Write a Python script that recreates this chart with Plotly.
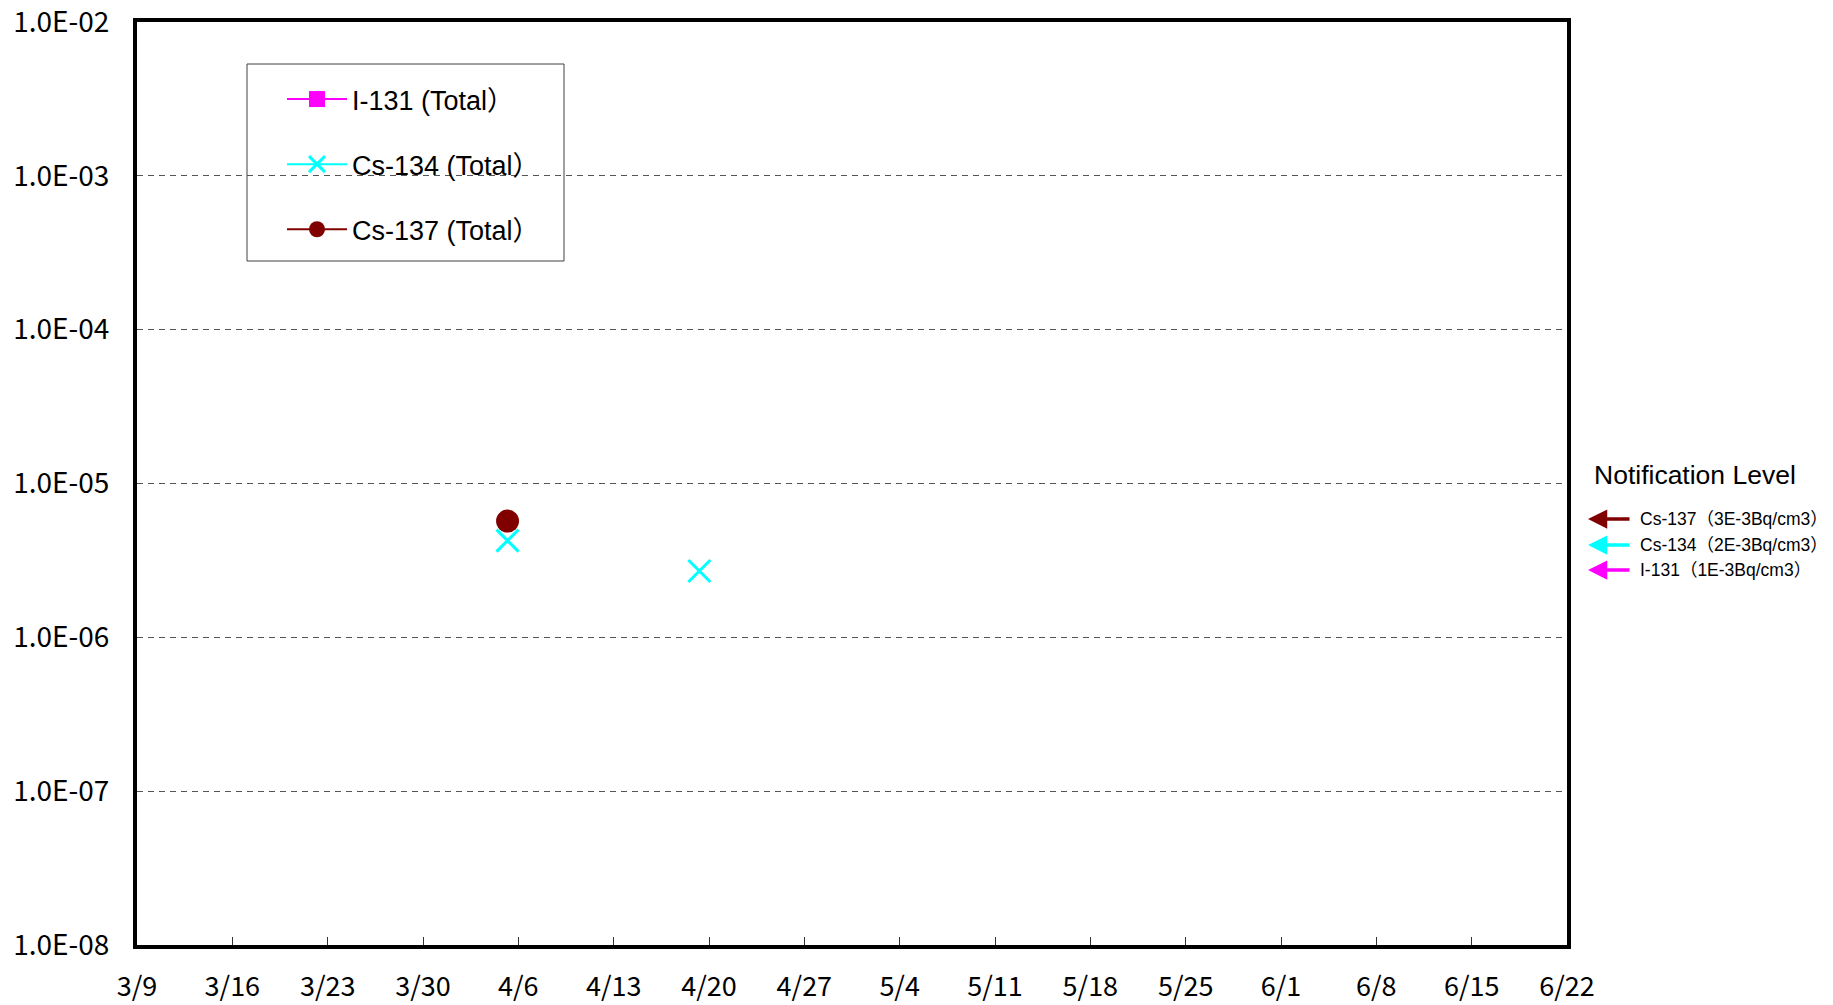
import plotly.graph_objects as go

# ---------------- data ----------------
series_names = ["I-131 (Total）", "Cs-134 (Total）", "Cs-137 (Total）"]
series_colors = ["#FF00FF", "#00FFFF", "#800000"]

i131_dates = ["2011-04-05"]
i131_values = [None]          # not detected
cs134_dates = ["2011-04-05 05:00", "2011-04-12 06:00", "2011-04-19 07:00"]
cs134_values = [4.25e-6, None, 2.7e-6]
cs137_dates = ["2011-04-05 05:00"]
cs137_values = [5.7e-6]

x_tick_dates = ["2011-03-09", "2011-03-16", "2011-03-23", "2011-03-30", "2011-04-06",
                "2011-04-13", "2011-04-20", "2011-04-27", "2011-05-04", "2011-05-11",
                "2011-05-18", "2011-05-25", "2011-06-01", "2011-06-08", "2011-06-15",
                "2011-06-22"]
x_tick_labels = ["3/9", "3/16", "3/23", "3/30", "4/6", "4/13", "4/20", "4/27", "5/4",
                 "5/11", "5/18", "5/25", "6/1", "6/8", "6/15", "6/22"]
y_tick_values = [1e-8, 1e-7, 1e-6, 1e-5, 1e-4, 1e-3, 1e-2]
y_tick_labels = ["1.0E-08", "1.0E-07", "1.0E-06", "1.0E-05", "1.0E-04", "1.0E-03", "1.0E-02"]

notif_title = "Notification Level"
notif_labels = ["Cs-137（3E-3Bq/cm3）", "Cs-134（2E-3Bq/cm3）", "I-131（1E-3Bq/cm3）"]
notif_colors = ["#800000", "#00FFFF", "#FF00FF"]

# ---------------- layout geometry (pixels, page has 8px body offset) ----------------
W, H = 1833, 1005
OFF = 8
L, R, T, B = 137 - OFF, 1567 - OFF, 22 - OFF, 945 - OFF


def px(xp):
    return (xp - OFF - L) / (R - L)


def py(yp):
    return (B - (yp - OFF)) / (B - T)


tick_font = "Noto Sans CJK JP"
text_font = "Liberation Sans, Arial, Noto Sans CJK JP"

fig = go.Figure()
fig.add_trace(go.Scatter(x=i131_dates, y=i131_values, name=series_names[0],
                         mode="lines+markers", legendgroup="a",
                         line=dict(color=series_colors[0], width=2),
                         marker=dict(symbol="square", size=16, color=series_colors[0])))
fig.add_trace(go.Scatter(x=cs134_dates, y=cs134_values, name=series_names[1],
                         mode="lines+markers", legendgroup="b", connectgaps=False,
                         line=dict(color=series_colors[1], width=2),
                         marker=dict(symbol="x-thin", size=22,
                                     line=dict(color=series_colors[1], width=3))))
fig.add_trace(go.Scatter(x=cs137_dates, y=cs137_values, name=series_names[2],
                         mode="lines+markers", legendgroup="c",
                         line=dict(color=series_colors[2], width=2),
                         marker=dict(symbol="circle", size=23, color=series_colors[2])))

shapes = [dict(type="rect", xref="paper", yref="paper",
               x0=px(247), x1=px(564), y0=py(261), y1=py(64),
               line=dict(color="#404040", width=1), fillcolor="white", layer="below")]

annotations = [dict(text=notif_title, xref="paper", yref="paper", x=px(1592), y=py(475),
                    xanchor="left", yanchor="middle", showarrow=False,
                    font=dict(family=text_font, size=26.5, color="black"))]
row_y = [519, 545, 570]
for lab, col, yy in zip(notif_labels, notif_colors, row_y):
    annotations.append(dict(text="", xref="paper", yref="paper", x=px(1588), y=py(yy),
                            axref="pixel", ayref="pixel", ax=43, ay=0,
                            showarrow=True, arrowhead=2, arrowsize=1.1, arrowwidth=3.5,
                            arrowcolor=col))
    annotations.append(dict(text=lab, xref="paper", yref="paper", x=px(1638), y=py(yy),
                            xanchor="left", yanchor="middle", showarrow=False,
                            font=dict(family=text_font, size=17.5, color="black")))

fig.update_layout(
    width=W, height=H,
    margin=dict(l=L, r=W - R, t=T, b=H - B, autoexpand=False),
    paper_bgcolor="white", plot_bgcolor="white",
    showlegend=True,
    legend=dict(x=px(282), y=py(75), xanchor="left", yanchor="top",
                bgcolor="rgba(0,0,0,0)", borderwidth=0, itemwidth=60,
                font=dict(family=text_font, size=27, color="black"),
                tracegroupgap=27, traceorder="grouped"),
    shapes=shapes,
    annotations=annotations,
    xaxis=dict(type="date", range=["2011-03-09", "2011-06-22"],
               tickmode="array", tickvals=x_tick_dates, ticktext=x_tick_labels,
               ticks="inside", ticklen=8, tickwidth=1, tickcolor="#333333",
               showgrid=False, zeroline=False,
               showline=True, linewidth=4, linecolor="black", mirror=True,
               tickfont=dict(family=tick_font, size=27, color="black"),
               ticklabelstandoff=15, automargin=False),
    yaxis=dict(type="log", range=[-8.0001, -1.9999],
               tickmode="array", tickvals=y_tick_values, ticktext=y_tick_labels,
               ticks="", showgrid=True, gridcolor="#555555", gridwidth=1,
               griddash="6px,5px", zeroline=False,
               showline=True, linewidth=4, linecolor="black", mirror=True,
               tickfont=dict(family=tick_font, size=28, color="black"),
               ticklabeloverflow="allow",
               ticklabelstandoff=18, automargin=False),
)

fig.write_html("out.html")
